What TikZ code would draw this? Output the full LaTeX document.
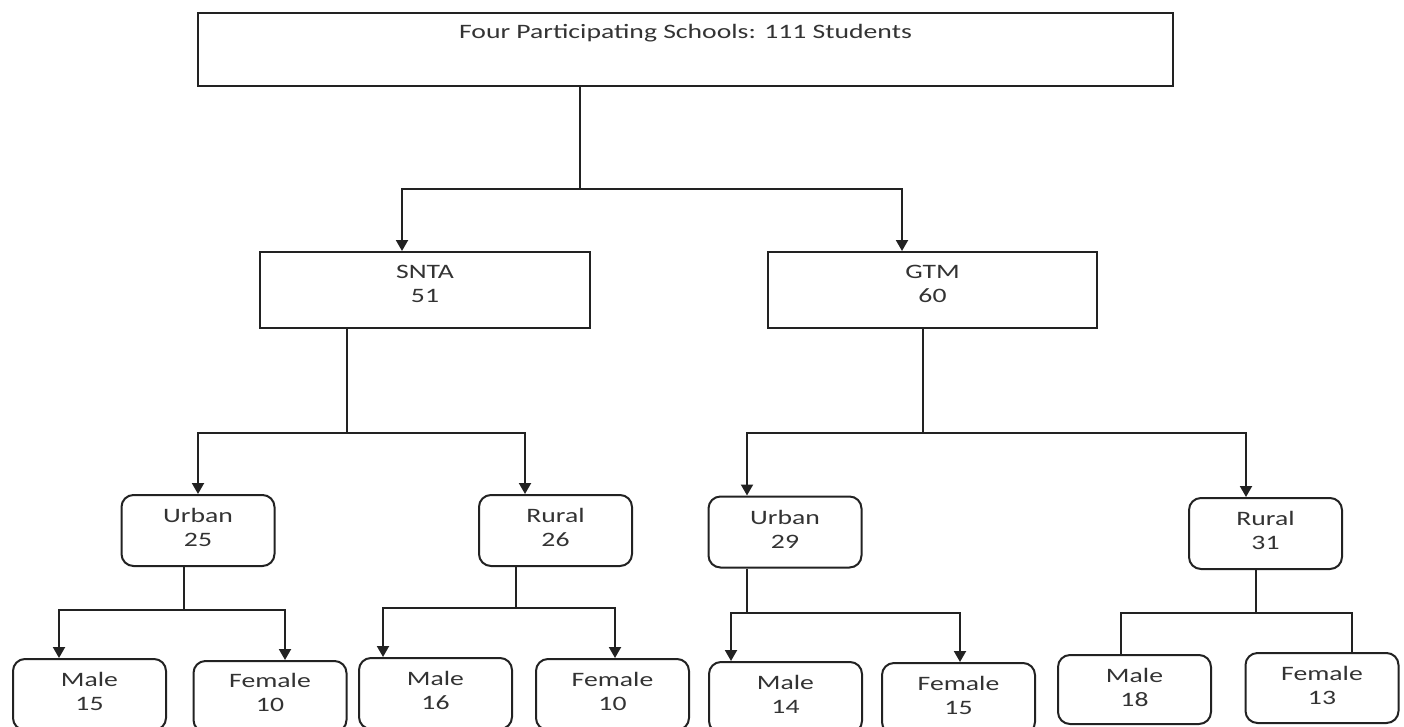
\documentclass[tikz,border=0pt]{standalone}
\usepackage{fontspec}
\setmainfont[FakeStretch=1.35]{Carlito}
\usetikzlibrary{arrows.meta,calc}
\definecolor{ink}{HTML}{222222}
\definecolor{txt}{HTML}{333333}
\tikzset{
  sqbox/.style={draw=ink, line width=2pt, rectangle, inner sep=0pt},
  rbox/.style={draw=ink, line width=2pt, rectangle, rounded corners=12pt, inner sep=0pt, minimum width=153pt, minimum height=71pt},
  lbl/.style={font=\fontsize{20.5}{24}\selectfont, text=txt, align=center, inner sep=0pt},
  conn/.style={draw=ink, line width=2pt},
  arr/.style={conn, -{Triangle[width=12pt,length=11pt]}},
}
\begin{document}
\begin{tikzpicture}[x=1pt,y=-1pt]
\useasboundingbox (0,0) rectangle (1404,726);
\clip (0,0) rectangle (1404,726);
% level 0
\node[sqbox, minimum width=975pt, minimum height=73pt] (top) at (685.5,49.5) {};
\node[lbl] (topT) at (685.5,33) {Four Participating Schools: 111 Students};
% level 1
\node[sqbox, minimum width=330pt, minimum height=76pt] (snta) at (425,290) {};
\node[lbl] (sntaT) at (425,284) {SNTA\\51};
\node[sqbox, minimum width=329pt, minimum height=76pt] (gtm) at (932.5,290) {};
\node[lbl] (gtmT) at (932.5,284) {GTM\\60};
% level 2
\node[rbox] (u1) at (198,530.5) {};
\node[lbl] (u1T) at (198,527) {Urban\\25};
\node[rbox] (r1) at (555.5,530.5) {};
\node[lbl] (r1T) at (555.5,527) {Rural\\26};
\node[rbox] (u2) at (785,532) {};
\node[lbl] (u2T) at (785,529) {Urban\\29};
\node[rbox] (r2) at (1265.5,533.5) {};
\node[lbl] (r2T) at (1265.5,530.5) {Rural\\31};
% level 3
\node[rbox] (m1) at (89.5,694.5) {};
\node[lbl] (m1T) at (89.5,691) {Male\\15};
\node[rbox] (f1) at (270,696.5) {};
\node[lbl] (f1T) at (270,692.5) {Female\\10};
\node[rbox] (m2) at (435.5,693.5) {};
\node[lbl] (m2T) at (435.5,690) {Male\\16};
\node[rbox] (f2) at (612.5,694.5) {};
\node[lbl] (f2T) at (612.5,691) {Female\\10};
\node[rbox] (m3) at (785.5,697.5) {};
\node[lbl] (m3T) at (785.5,694) {Male\\14};
\node[rbox] (f3) at (958.5,698.5) {};
\node[lbl] (f3T) at (958.5,695.5) {Female\\15};
\node[rbox, minimum height=69pt] (m4) at (1134.5,689.5) {};
\node[lbl] (m4T) at (1134.5,687) {Male\\18};
\node[rbox, minimum height=70pt] (f4) at (1322,688) {};
\node[lbl] (f4T) at (1322,685.5) {Female\\13};
% junctions
\coordinate (j0) at (580,189);
\coordinate (j1) at (347,433);
\coordinate (j2) at (923,433);
\coordinate (j3) at (184,610);
\coordinate (j4) at (516,608);
\coordinate (j5) at (747,613);
\coordinate (j6) at (1256,613);
% connectors
\draw[conn] (top.south -| j0) -- (j0);
\draw[arr] (j0) -| ($(snta.north)+(-23,0)$);
\draw[arr] (j0) -| ($(gtm.north)+(-30.5,0)$);
\draw[conn] (snta.south -| j1) -- (j1);
\draw[arr] (j1) -| (u1.north);
\draw[arr] (j1) -| ($(r1.north)+(-30.5,0)$);
\draw[conn] (gtm.south -| j2) -- (j2);
\draw[arr] (j2) -| ($(u2.north)+(-38,0)$);
\draw[arr] (j2) -| ($(r2.north)+(-19.5,0)$);
\draw[conn] (u1.south -| j3) -- (j3);
\draw[arr] (j3) -| ($(m1.north)+(-30.5,0)$);
\draw[arr] (j3) -| ($(f1.north)+(15,0)$);
\draw[conn] (r1.south -| j4) -- (j4);
\draw[arr] (j4) -| ($(m2.north)+(-52.5,0)$);
\draw[arr] (j4) -| ($(f2.north)+(2.5,0)$);
\draw[conn] (u2.south -| j5) -- (j5);
\draw[arr] (j5) -| ($(m3.north)+(-54.5,0)$);
\draw[arr] (j5) -| ($(f3.north)+(1.5,0)$);
\draw[conn] (r2.south -| j6) -- (j6);
\draw[conn] (j6) -| ($(m4.north)+(-13.5,0)$);
\draw[conn] (j6) -| ($(f4.north)+(30,0)$);
\end{tikzpicture}
\end{document}
